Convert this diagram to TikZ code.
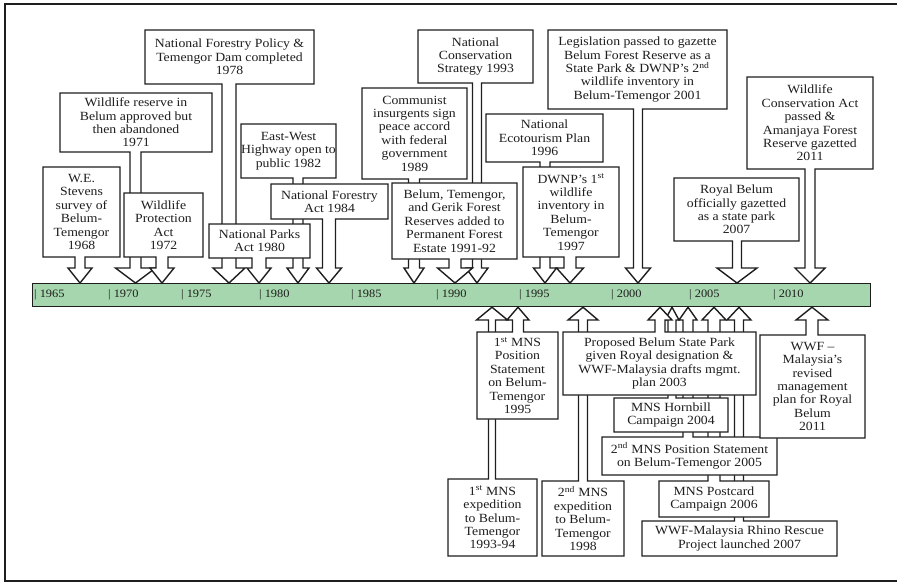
\documentclass[tikz,border=0pt]{standalone}
\usepackage{fontspec}
\setmainfont{Liberation Serif}[FakeStretch=1.1]
\definecolor{barfill}{RGB}{166,214,174}
\definecolor{ink}{RGB}{30,30,30}
\tikzset{
 cshape/.style={draw=ink, fill=white, line width=1.4pt, line join=miter},
 txt/.style={inner sep=0pt, align=center, text=ink, font=\fontsize{12.5}{13.4}\selectfont},
 yr/.style={inner sep=0pt, anchor=west, text=ink, font=\fontsize{11.3}{14}\selectfont},
 frameline/.style={draw=ink, line width=2pt},
 barbox/.style={draw=ink, fill=barfill, line width=1.2pt, minimum width=838pt, minimum height=23pt, inner sep=0pt, anchor=north west},
}
% down callout: name, x1, y1, x2, y2, tip x, stem half width, head half width, text
\newcommand\dcall[9]{%
  \filldraw[cshape] (#2,#3) -- (#4,#3) -- (#4,#5) -- ({#6+#7},#5) -- ({#6+#7},268) -- ({#6+#8},268) -- (#6,0 |- bar.north) -- ({#6-#8},268) -- ({#6-#7},268) -- ({#6-#7},#5) -- (#2,#5) -- cycle;
  \node[txt] (#1) at ({(#2+#4)/2},{(#3+#5)/2}) {#9};}
% up callout
\newcommand\ucall[9]{%
  \filldraw[cshape] (#2,#3) -- ({#6-#7},#3) -- ({#6-#7},320) -- ({#6-#8},320) -- (#6,0 |- bar.south) -- ({#6+#8},320) -- ({#6+#7},320) -- ({#6+#7},#3) -- (#4,#3) -- (#4,#5) -- (#2,#5) -- cycle;
  \node[txt] (#1) at ({(#2+#4)/2},{(#3+#5)/2}) {#9};}
\begin{document}
\begin{tikzpicture}[x=1pt,y=-1pt]
\useasboundingbox (0,0) rectangle (897,582);
\draw[frameline] (897,4) -- (5,4) -- (5,581) -- (897,581);
% timeline
\node[barbox] (bar) at (32,283) {};
\node[yr] (y1965) at (34,294.5) {| 1965};
\node[yr] (y1970) at (108,294.5) {| 1970};
\node[yr] (y1975) at (181,294.5) {| 1975};
\node[yr] (y1980) at (259,294.5) {| 1980};
\node[yr] (y1985) at (351,294.5) {| 1985};
\node[yr] (y1990) at (436,294.5) {| 1990};
\node[yr] (y1995) at (519,294.5) {| 1995};
\node[yr] (y2000) at (611,294.5) {| 2000};
\node[yr] (y2005) at (689,294.5) {| 2005};
\node[yr] (y2010) at (773,294.5) {| 2010};
% top callouts
\dcall{c1968}{43}{167}{120}{257}{80}{5}{12}{W.E.\\Stevens\\survey of\\Belum-\\Temengor\\1968}
\dcall{c1971}{60}{93}{212}{152}{135.5}{5.5}{20}{Wildlife reserve in\\Belum approved but\\then abandoned\\1971}
\dcall{c1972}{124}{193}{203}{257}{162}{6}{12}{Wildlife\\Protection\\Act\\1972}
\dcall{c1978}{145}{30}{314}{84}{229}{7}{16}{National Forestry Policy \&\\Temengor Dam completed\\1978}
\dcall{c1982}{241}{124}{336}{178}{298}{5}{11}{East-West\\Highway open to\\public 1982}
\dcall{c1984}{271}{184}{388}{219}{329}{6.5}{12.5}{National Forestry\\Act 1984}
\dcall{c1980}{209}{224}{310}{258}{259}{7}{12}{National Parks\\Act 1980}
\dcall{c1989}{362}{88}{467}{179}{414}{5.5}{10}{Communist\\insurgents sign\\peace accord\\with federal\\government\\1989}
\dcall{c1993}{418}{30}{533}{83}{477}{4.5}{11}{National\\Conservation\\Strategy 1993}
\dcall{c1991}{392}{183}{517}{259}{455}{6}{17.5}{Belum, Temengor,\\and Gerik Forest\\Reserves added to\\Permanent Forest\\Estate 1991-92}
\dcall{c2001}{548}{30}{727}{109}{638}{4.5}{12.5}{Legislation passed to gazette\\Belum Forest Reserve as a\\State Park \& DWNP's 2\textsuperscript{nd}\\wildlife inventory in\\Belum-Temengor 2001}
\dcall{c1996}{486}{114}{603}{162}{545}{5}{11.5}{National\\Ecotourism Plan\\1996}
\dcall{c1997}{523}{167}{619}{257}{570}{6}{13.5}{DWNP's 1\textsuperscript{st}\\wildlife\\inventory in\\Belum-\\Temengor\\1997}
\dcall{c2007}{674}{178}{799}{241}{737}{4.5}{20}{Royal Belum\\officially gazetted\\as a state park\\2007}
\dcall{c2011}{747}{77}{873}{169}{810}{5}{15}{Wildlife\\Conservation Act\\passed \&\\Amanjaya Forest\\Reserve gazetted\\2011}
% bottom callouts
\ucall{b1994}{448}{479}{537}{556}{492}{3.5}{15.5}{1\textsuperscript{st} MNS\\expedition\\to Belum-\\Temengor\\1993-94}
\ucall{b1995}{477}{332}{558}{419}{518}{5.5}{11}{1\textsuperscript{st} MNS\\Position\\Statement\\on Belum-\\Temengor\\1995}
\ucall{b1998}{542}{481}{624}{556}{583}{4.5}{15}{2\textsuperscript{nd} MNS\\expedition\\to Belum-\\Temengor\\1998}
\ucall{b2007}{642}{521}{837}{556}{739}{4.5}{12}{WWF-Malaysia Rhino Rescue\\Project launched 2007}
\ucall{b2006}{659}{481}{769}{517}{714}{6}{12}{MNS Postcard\\Campaign 2006}
\ucall{b2005}{602}{437}{777}{475}{688}{5}{9}{2\textsuperscript{nd} MNS Position Statement\\on Belum-Temengor 2005}
\ucall{b2004}{614}{398}{728}{432}{672}{4}{7}{MNS Hornbill\\Campaign 2004}
\ucall{b2003}{563}{332}{756}{395}{660}{5}{12}{Proposed Belum State Park\\given Royal designation \&\\WWF-Malaysia drafts mgmt.\\plan 2003}
\ucall{b2011}{760}{335}{865}{438}{812}{6}{16}{WWF --\\Malaysia's\\revised\\management\\plan for Royal\\Belum\\2011}
\end{tikzpicture}
\end{document}
